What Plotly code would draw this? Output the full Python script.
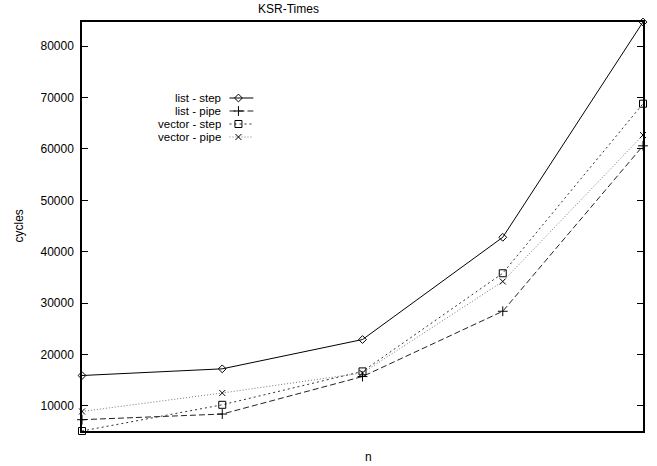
import plotly.graph_objects as go

# ---- data ----
n = [1, 2, 3, 4, 5]
list_step = [15900, 17200, 22900, 42800, 84700]
list_pipe = [7300, 8400, 15700, 28400, 60600]
vector_step = [5100, 10200, 16700, 35800, 68800]
vector_pipe = [8900, 12500, 16400, 34200, 62700]

series_names = ["list - step", "list - pipe", "vector - step", "vector - pipe"]
series_values = [list_step, list_pipe, vector_step, vector_pipe]

title_text = "KSR-Times"
x_label = "n"
y_label = "cycles"
y_ticks = [10000, 20000, 30000, 40000, 50000, 60000, 70000, 80000]

# ---- styles ----
FONT = "Liberation Sans, Arial, Helvetica, sans-serif"
BLACK = "#000000"
styles = [
    dict(line=dict(color="#000000", width=1, dash="solid"),
         marker=dict(symbol="diamond-open", size=6, color=BLACK, line=dict(width=1))),
    dict(line=dict(color="#222222", width=1, dash="6px,3px"),
         marker=dict(symbol="cross-thin-open", size=7, color=BLACK, line=dict(width=1))),
    dict(line=dict(color="#333333", width=1, dash="2px,3px"),
         marker=dict(symbol="square-open", size=7, color=BLACK, line=dict(width=1))),
    dict(line=dict(color="#777777", width=1, dash="1px,2px"),
         marker=dict(symbol="x-thin-open", size=6, color=BLACK, line=dict(width=1))),
]

fig = go.Figure()
for name, vals, st in zip(series_names, series_values, styles):
    fig.add_trace(go.Scatter(x=n, y=vals, mode="lines+markers", name=name,
                             line=st["line"], marker=st["marker"], showlegend=False,
                             cliponaxis=False))

# ---- custom gnuplot-style legend (text right, sample on the right) on overlay pixel axes ----
L, R, T, B = 82, 645, 22, 431
leg_rows = [98, 111, 124, 137]
for name, st, yy in zip(series_names, styles, leg_rows):
    fig.add_trace(go.Scatter(x=[230, 254], y=[yy, yy], mode="lines", line=st["line"],
                             xaxis="x2", yaxis="y2", showlegend=False, hoverinfo="skip"))
    fig.add_trace(go.Scatter(x=[239], y=[yy], mode="markers", marker=st["marker"],
                             xaxis="x2", yaxis="y2", showlegend=False, hoverinfo="skip"))
    fig.add_annotation(x=223, y=yy, xref="x2", yref="y2", text=name, showarrow=False,
                       xanchor="right", yanchor="middle", height=12,
                       font=dict(family=FONT, size=11.5, color=BLACK))

all_vals = [v for s in series_values for v in s]
ymin, ymax = min(all_vals), max(all_vals)

fig.update_layout(
    width=657, height=466,
    margin=dict(l=L, r=657 - R, t=T, b=466 - B),
    paper_bgcolor="white", plot_bgcolor="white",
    font=dict(family=FONT, size=12, color=BLACK),
    xaxis=dict(range=[min(n), max(n)], showticklabels=False, ticks="",
               showgrid=False, zeroline=False, showline=True, linecolor=BLACK,
               linewidth=1.5, mirror=True),
    yaxis=dict(range=[ymin, ymax], tickvals=y_ticks, tickformat="d", ticks="inside",
               ticklen=6, tickcolor=BLACK, showgrid=False, zeroline=False,
               showline=True, linecolor=BLACK, linewidth=1.5, mirror="ticks",
               ticklabelstandoff=4, tickfont=dict(size=12, color=BLACK)),
    xaxis2=dict(range=[L, R], overlaying="x", visible=False, fixedrange=True),
    yaxis2=dict(range=[B, T], overlaying="y", visible=False, fixedrange=True),
    showlegend=False,
)

fig.add_annotation(x=(289 - L) / (R - L), y=1, xref="paper", yref="paper", yshift=13,
                   text=title_text, showarrow=False, xanchor="center", yanchor="middle",
                   font=dict(family=FONT, size=12, color=BLACK))
fig.add_annotation(x=(370 - L) / (R - L), y=0, xref="paper", yref="paper", yshift=-26,
                   text=x_label, showarrow=False, xanchor="center", yanchor="middle",
                   font=dict(family=FONT, size=12, color=BLACK))
fig.add_annotation(x=0, y=0.5, xref="paper", yref="paper", xshift=-64,
                   text=y_label, showarrow=False, textangle=-90, xanchor="center",
                   yanchor="middle", font=dict(family=FONT, size=12, color=BLACK))

fig.write_html("out.html", config={"displayModeBar": False},
               post_script="document.body.style.margin='0';document.body.style.padding='0';")
